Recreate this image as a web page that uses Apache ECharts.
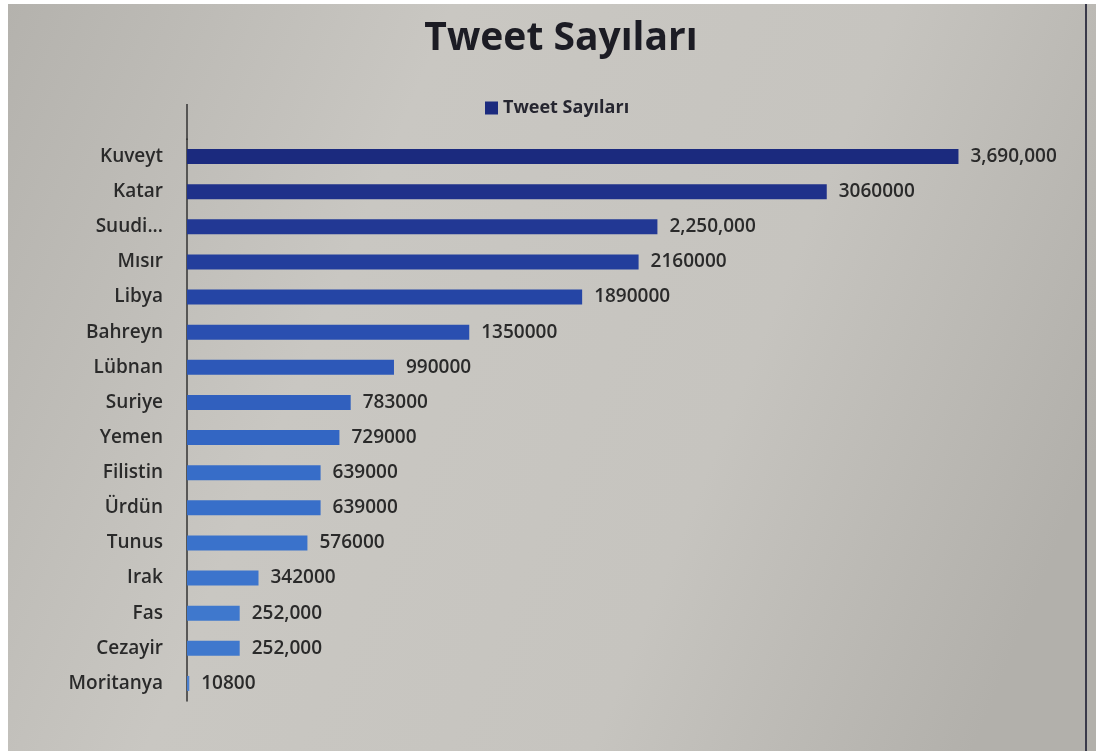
<!DOCTYPE html>
<html><head><meta charset="utf-8">
<script src="https://cdn.jsdelivr.net/npm/echarts@6/dist/echarts.min.js"></script>
<style>html,body{margin:0;padding:0;background:#ffffff;}#c{width:1096px;height:751px;}</style>
</head><body><div id="c"></div>
<script>
const categories = ["Kuveyt","Katar","Suudi...","Mısır","Libya","Bahreyn","Lübnan","Suriye","Yemen","Filistin","Ürdün","Tunus","Irak","Fas","Cezayir","Moritanya"];
const values = [3690000,3060000,2250000,2160000,1890000,1350000,990000,783000,729000,639000,639000,576000,342000,252000,252000,10800];
const commaFormat = [true,false,true,false,false,false,false,false,false,false,false,false,false,true,true,false];
const seriesName = "Tweet Sayıları";
const titleText = "Tweet Sayıları";

const barColors = ["#1b2a7e","#1f318a","#223894","#233e9c","#2545a5","#2a4fb0","#2d58b8","#3160be","#3366c3","#376dc8","#386fc9","#3a72cb","#3c74cc","#3f78cd","#3f78cd","#4a7fcf"];

const chart = echarts.init(document.getElementById('c'));
chart.setOption({
  backgroundColor: '#ffffff',
  animation:false,
  graphic:[
    {type:'rect',shape:{x:8,y:4,width:1088,height:747},z:-10,
      style:{fill:{type:'linear',x:0,y:0,x2:1,y2:0.6,colorStops:[{offset:0,color:'#b4b2ad'},{offset:0.35,color:'#c9c7c2'},{offset:0.7,color:'#c6c4bf'},{offset:1,color:'#b2b0ab'}]}}},
    {type:'line',shape:{x1:1086,y1:4,x2:1086,y2:751},style:{stroke:'#3a3a4a',lineWidth:2}},
    {type:'line',shape:{x1:187,y1:104,x2:187,y2:140},style:{stroke:'#333',lineWidth:1.5}}
  ],
  title:{text:titleText,left:556,top:14,textAlign:'center',textStyle:{fontFamily:'Open Sans',fontWeight:'bold',fontSize:39,color:'#1c1c24'}},
  legend:{data:[seriesName],top:94,left:480,itemWidth:13,itemHeight:13,itemGap:4,icon:'rect',
    textStyle:{fontFamily:'Open Sans',fontWeight:'bold',fontSize:18,color:'#262630'}},
  grid:{left:187,right:10,top:139,bottom:50,containLabel:false},
  xAxis:{type:'value',min:0,max:4300000,show:false},
  yAxis:{type:'category',data:categories,inverse:true,
    axisLine:{show:true,lineStyle:{color:'#333',width:1.5}},
    axisTick:{show:false},
    axisLabel:{fontFamily:'Open Sans',fontSize:19,color:'#2a2a2a',margin:24,fontWeight:600}},
  series:[{name:seriesName,type:'bar',data:values,barWidth:15,
    itemStyle:{color:(p)=>barColors[p.dataIndex]},
    label:{show:true,position:'right',distance:12,fontFamily:'Open Sans',fontSize:19,fontWeight:600,color:'#2a2a2a',
      formatter:(p)=> commaFormat[p.dataIndex] ? p.value.toLocaleString('en-US') : String(p.value)}
  }],
  color:['#1b2a7e']
});
</script></body></html>
